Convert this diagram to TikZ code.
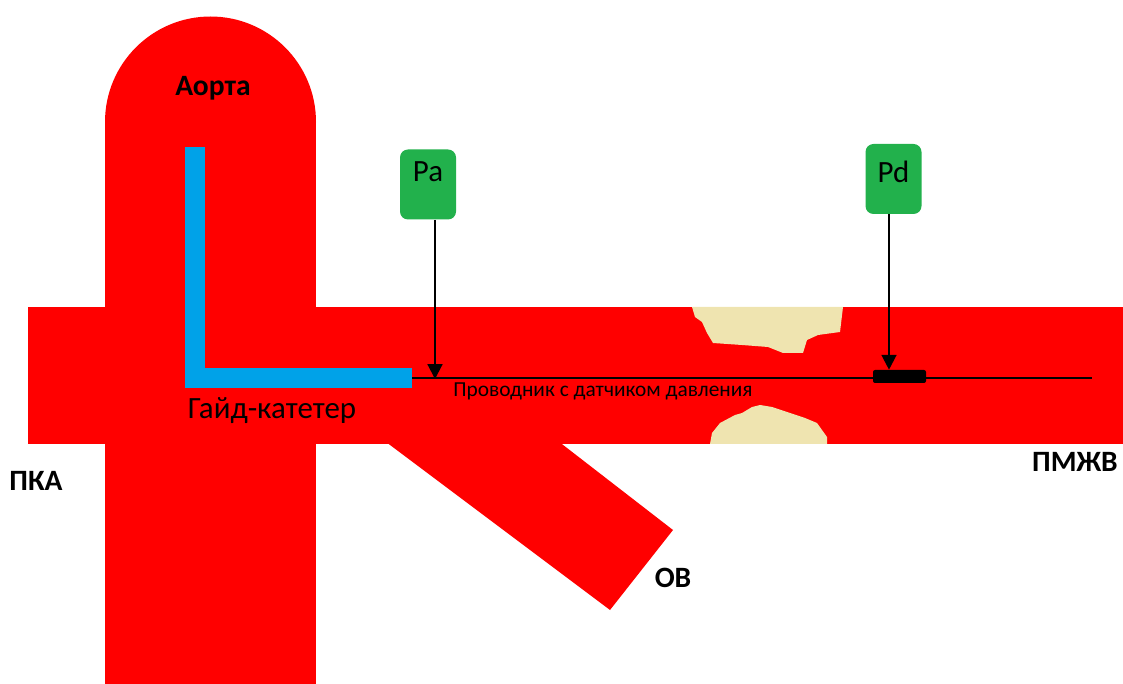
\documentclass[tikz,border=0pt]{standalone}
\usepackage{fontspec}
\setmainfont{Carlito}
\usepackage{xcolor}
\usepackage{tikz}
\usetikzlibrary{arrows.meta}
\definecolor{vessel}{RGB}{255,0,0}
\definecolor{plaque}{RGB}{239,228,176}
\definecolor{guide}{RGB}{0,162,232}
\definecolor{gauge}{RGB}{34,177,76}

\begin{document}
\begin{tikzpicture}[x=0.25mm, y=-0.25mm,
    every node/.style={font=\fontsize{22}{26}\selectfont},
    tag/.style={font=\fontsize{21}{25}\selectfont\bfseries},
    gaugebox/.style={fill=gauge, rounded corners=2mm, minimum width=14mm, minimum height=17.5mm,
        text height=5mm, text depth=6.4mm, inner sep=0},
    probe/.style={-{Triangle[length=3.7mm, width=3.7mm]}, line width=1.5pt}]

    \useasboundingbox (0,0) rectangle (1123,684);

    % Aorta with its rounded top
    \fill[vessel] (105,122) rectangle (316,684);
    \fill[vessel] (210.5,122) circle (105.5);

    % Main coronary trunk
    \fill[vessel] (28,307) rectangle (1123,444);

    % Side branch
    \fill[vessel] (330,400) -- (610,610) -- (673,530) -- (505,400) -- cycle;

    % Plaques
    \fill[plaque] (692,307) -- (695,317) -- (702,322) -- (707,333) -- (713,343) -- (742,345)
        -- (768,347) -- (783,353) -- (803,353) -- (807,340) -- (818,335) -- (840,332) -- (843,307) -- cycle;
    \fill[plaque] (710,444) -- (712,433) -- (720,423) -- (735,415) -- (742,413) -- (752,407)
        -- (760,405) -- (772,407) -- (790,413) -- (805,418) -- (817,423) -- (822,430) -- (827,437) -- (827,444) -- cycle;

    % Pressure wire and sensor
    \coordinate (wire-start) at (412,378);
    \coordinate (wire-end) at (1092,378);
    \draw[line width=1pt] (wire-start) -- (wire-end);
    \node[fill=black, rounded corners=0.5mm, minimum width=13.25mm, minimum height=3.25mm, inner sep=0] (sensor) at (899.5,376.5) {};

    % Guide catheter
    \draw[guide, line width=5mm, line join=miter] (195,147) -- (195,378) -- (wire-start);

    % Pressure readouts
    \node[gaugebox] (pa) at (428,184.5) {Pa};
    \node[gaugebox, text depth=3.4mm] (pd) at (893.5,179) {Pd};
    \coordinate (pa-tip) at (435,379);
    \draw[probe] (pa.south -| pa-tip) -- (pa-tip);
    \draw[probe] (pd.south -| 889,0) -- (889,0 |- sensor.north);

    % Labels
    \node[tag] (aorta) at (213,88) {Аорта};
    \node (cath-lbl) at (272,411) {Гайд-катетер};
    \node[font=\fontsize{15.2}{18}\selectfont] (wire-lbl) at (603,391) {Проводник с датчиком давления};
    \node[tag] (rca) at (36,481) {ПКА};
    \node[tag] (lad) at (1075,462) {ПМЖВ};
    \node[tag] (lcx) at (673,578) {ОВ};
\end{tikzpicture}
\end{document}
